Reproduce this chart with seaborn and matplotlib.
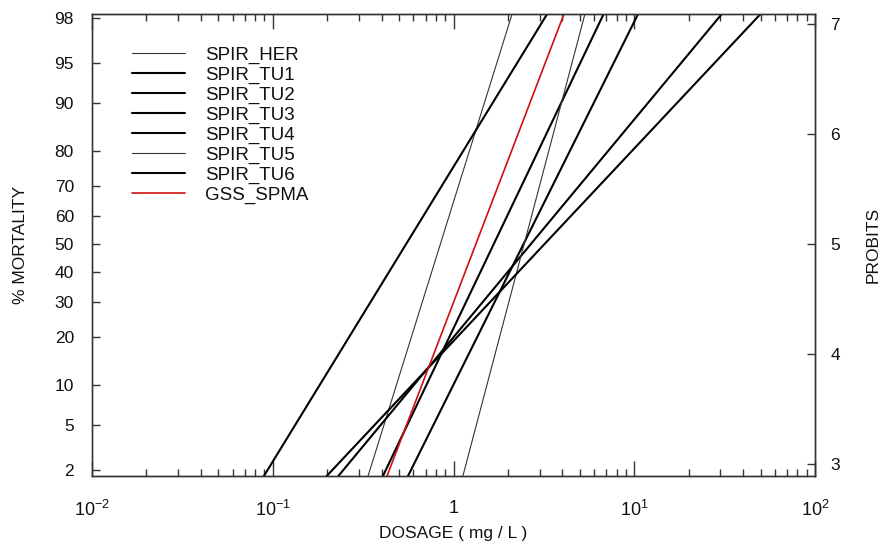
import numpy as np
import pandas as pd
import matplotlib.pyplot as plt
import matplotlib.ticker as mticker
import seaborn as sns
from statistics import NormalDist

# ------------------------------------------------------------------
# Data: probit regression lines (LC50 in mg/L and probit slope)
# ------------------------------------------------------------------
series = ["SPIR_HER", "SPIR_TU1", "SPIR_TU2", "SPIR_TU3",
          "SPIR_TU4", "SPIR_TU5", "SPIR_TU6", "GSS_SPMA"]
lc50 = [0.846, 0.547, 1.67, 2.44, 2.68, 2.46, 3.19, 1.33]
slopes = [5.27, 2.68, 3.44, 3.30, 1.98, 6.22, 1.75, 4.29]
colors = ["#333333", "black", "black", "black", "black", "#333333", "black", "#d01010"]
widths = [0.8, 1.5, 1.5, 1.5, 1.5, 0.8, 1.5, 1.2]

mortality_ticks = [2, 5, 10, 20, 30, 40, 50, 60, 70, 80, 90, 95, 98]
probit_ticks = [3, 4, 5, 6, 7]
dose_ticks = [0.01, 0.1, 1, 10, 100]
dose_labels = [r"$\mathdefault{10^{-2}}$", r"$\mathdefault{10^{-1}}$", "1",
               r"$\mathdefault{10^{1}}$", r"$\mathdefault{10^{2}}$"]

# build long table of the fitted lines (probit = 5 + b*(log10 x - log10 LC50))
rows = []
for name, lc, b in zip(series, lc50, slopes):
    for p in [2.5, 7.5]:
        rows.append({"series": name, "probit": p,
                     "dose": 10 ** (np.log10(lc) + (p - 5) / b)})
df = pd.DataFrame(rows)

# ------------------------------------------------------------------
# Style
# ------------------------------------------------------------------
sns.set_style("ticks")
plt.rcParams["font.family"] = ["Liberation Sans", "DejaVu Sans"]
plt.rcParams["mathtext.fontset"] = "custom"
plt.rcParams["mathtext.rm"] = "Liberation Sans"
plt.rcParams["mathtext.it"] = "Liberation Sans:italic"
plt.rcParams["text.color"] = "#111111"
plt.rcParams["axes.labelcolor"] = "#111111"
plt.rcParams["xtick.labelcolor"] = "#111111"
plt.rcParams["ytick.labelcolor"] = "#111111"

fig = plt.figure(figsize=(8.83, 5.49), dpi=100)
ax = fig.add_axes([0.1042, 0.133, 0.8188, 0.8415])

for name, c, w in zip(series, colors, widths):
    sub = df[df["series"] == name]
    sns.lineplot(data=sub, x="dose", y="probit", color=c, linewidth=w,
                 label=name, ax=ax)

ax.set_xscale("log")
ax.set_xlim(0.01, 100)
ax.set_ylim(2.891, 7.091)

# x axis ticks: inward, on top and bottom
ax.set_xticks(dose_ticks)
ax.set_xticklabels(dose_labels)
ax.xaxis.set_minor_locator(mticker.LogLocator(base=10, subs=np.arange(2, 10), numticks=50))
ax.xaxis.set_minor_formatter(mticker.NullFormatter())
ax.tick_params(axis="x", which="major", direction="in", length=11, width=1,
               top=True, bottom=True, labelsize=13, pad=17, color="#333333")
ax.tick_params(axis="x", which="minor", direction="in", length=5, width=1,
               top=True, bottom=True, color="#333333")

# left axis: % mortality at probit positions
nd = NormalDist()
ax.set_yticks([5 + nd.inv_cdf(m / 100) for m in mortality_ticks])
ax.set_yticklabels([str(m) for m in mortality_ticks])
ax.yaxis.set_minor_locator(mticker.NullLocator())
ax.tick_params(axis="y", direction="in", length=6, width=1, labelsize=12.5, pad=13,
               color="#333333")

# right axis: probits
ax2 = ax.twinx()
ax2.set_ylim(ax.get_ylim())
ax2.set_yticks(probit_ticks)
ax2.yaxis.set_minor_locator(mticker.NullLocator())
ax2.tick_params(axis="y", direction="in", length=6, width=1, labelsize=12.5, pad=11,
                color="#333333")

for a in (ax, ax2):
    for s in a.spines.values():
        s.set_color("#333333")
        s.set_linewidth(1)
ax.spines["left"].set_color("#666666")

ax.set_xlabel("DOSAGE ( mg / L )", fontsize=12.5)
ax.xaxis.set_label_coords(0.5, -0.108)
ax.set_ylabel("% MORTALITY", fontsize=12.5)
ax.yaxis.set_label_coords(-0.0885, 0.5)
ax2.set_ylabel("PROBITS", fontsize=12.5)
ax2.yaxis.set_label_coords(1.0705, 0.5)

ax.legend(loc="upper left", bbox_to_anchor=(0.055, 0.929), frameon=False,
          handlelength=2.83, handletextpad=1.07, labelspacing=0.14,
          borderpad=0, borderaxespad=0, fontsize=13.5)

fig.savefig("out.png", dpi=100)
